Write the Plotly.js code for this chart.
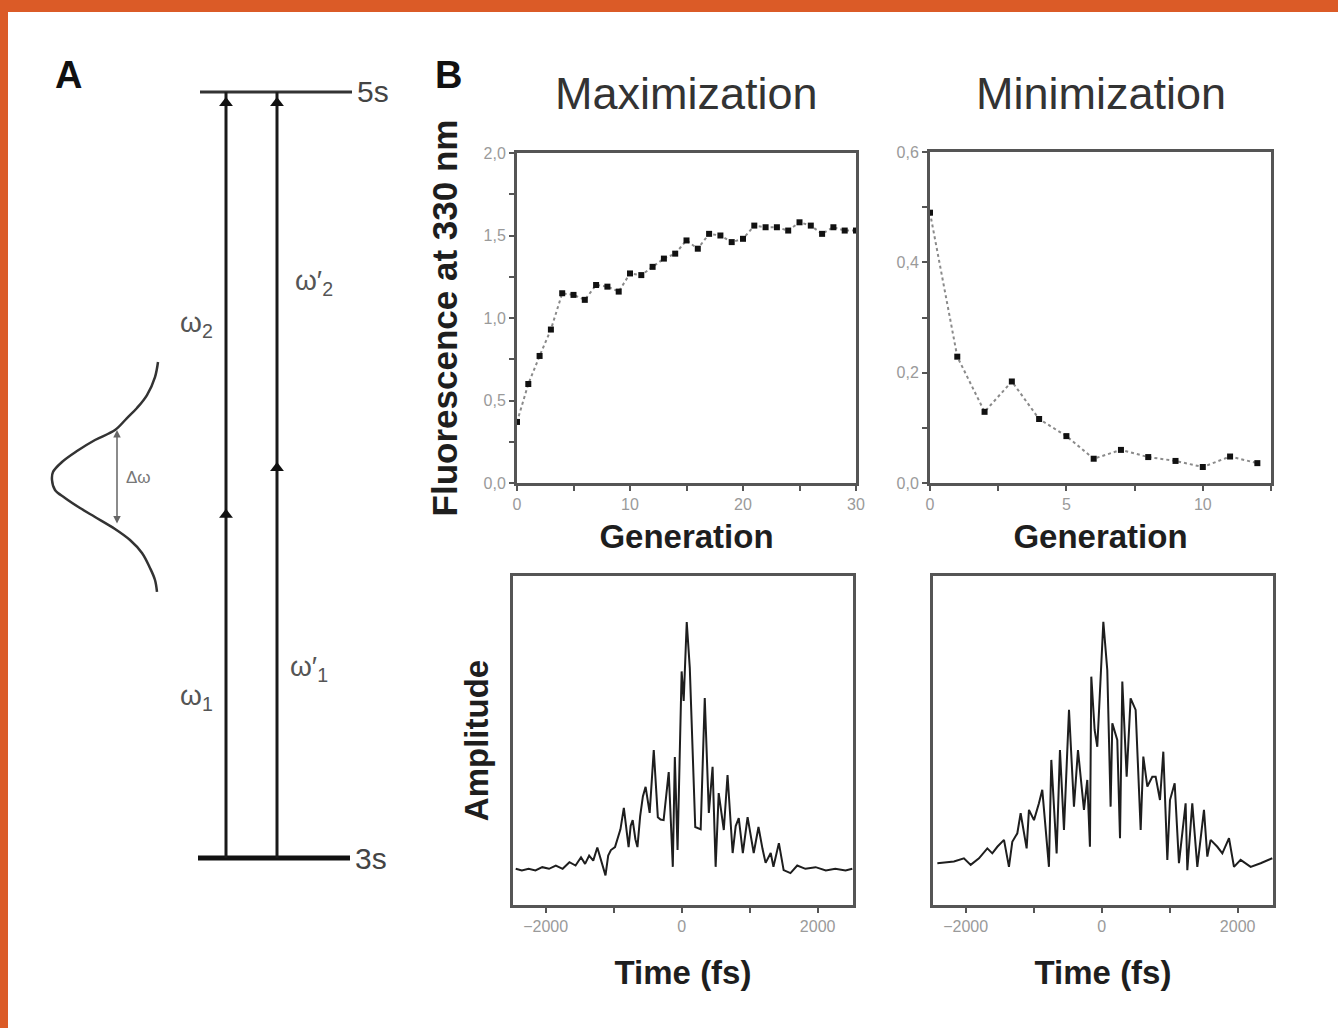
<!DOCTYPE html>
<html><head><meta charset="utf-8">
<script src="https://cdn.plot.ly/plotly-3.0.1.min.js"></script>
<style>html,body{margin:0;padding:0;background:#fff}#chart{width:1338px;height:1028px}</style>
</head><body><div id="chart"></div>
<script>
// ---------- Panel B, top row: fluorescence at 330 nm per generation ----------
const generationsMax = [0,1,2,3,4,5,6,7,8,9,10,11,12,13,14,15,16,17,18,19,20,21,22,23,24,25,26,27,28,29,30];
const fluorMax = [0.37,0.60,0.77,0.93,1.15,1.14,1.11,1.20,1.19,1.16,1.27,1.26,1.31,1.36,1.39,1.47,1.42,1.51,1.50,1.46,1.48,1.56,1.55,1.55,1.53,1.58,1.56,1.51,1.55,1.53,1.53];
const generationsMin = [0,1,2,3,4,5,6,7,8,9,10,11,12];
const fluorMin = [0.49,0.229,0.129,0.184,0.116,0.085,0.044,0.060,0.047,0.040,0.029,0.048,0.036];

// ---------- Panel B, bottom row: pulse amplitude vs time ----------
const timeMax = [-2440,-2350,-2250,-2150,-2050,-1950,-1850,-1750,-1650,-1560,-1480,-1420,-1360,-1300,-1240,-1180,-1120,-1080,-1040,-980,-940,-900,-850,-810,-780,-750,-720,-680,-650,-610,-570,-530,-470,-410,-350,-310,-265,-190,-130,-100,-60,0,30,75,120,200,280,340,400,455,500,545,620,675,750,795,840,900,970,1060,1130,1190,1235,1310,1350,1430,1500,1600,1700,1820,1970,2120,2260,2410,2510];
const ampMax = [11,10.5,11,10.5,11.5,11,12,11,13,12,14.5,12.5,15,13.5,17.5,13,9,15,16.7,17.6,20,23,29.5,22,17.6,24,25.8,20,17.6,27,33,35.9,28,47.1,26.7,26,25.8,40.4,11.6,45,16.7,71,62,86,72,23.7,23,62.9,28,42,11.6,34,22.8,39.5,15.8,24,26.4,15.8,26.7,15.8,23.7,17,12.8,15.8,11.6,18.8,10.6,9.7,12,11,11.5,10.5,11,10.5,11];
const timeMin = [-2416,-2172,-2025,-1926,-1804,-1681,-1608,-1534,-1436,-1363,-1314,-1240,-1191,-1103,-1069,-995,-922,-873,-775,-740,-662,-613,-554,-480,-407,-348,-260,-211,-172,-152,-103,-64,25,83,132,157,230,270,304,368,426,500,574,613,672,745,794,858,907,966,1005,1074,1137,1235,1260,1333,1407,1505,1554,1603,1701,1775,1873,1946,2044,2191,2338,2510];
const ampMin = [12.7,13.2,14.2,12.2,14.2,17.2,15.7,17.7,19.8,11.6,19.2,21.8,27.9,17.2,28.9,25.8,30.9,35.0,11.6,44.1,15.7,47.1,22.8,59.3,29.9,47.1,28.9,38.0,17.7,69.4,53.2,48.1,86.1,71.4,29.9,55.2,50.2,20.3,67.9,39.0,62.8,59.3,22.8,45.1,36.0,39.0,39.0,31.9,46.6,13.7,31.9,37.0,12.7,30.9,10.6,30.9,11.6,28.9,14.7,19.8,17.7,15.7,20.3,11.6,13.7,11.6,12.7,14.2];

// ---------- Panel A: level scheme (energy 0 = 3s, 1 = 5s) ----------
const levelLabels = ['3s','5s'];
const levelEnergy = [0, 1];
const virtualEnergy = [0.448, 0.509];      // intermediate arrowheads for ω1 and ω'1
const transitionLabels = [['ω<sub>1</sub>','ω<sub>2</sub>'],['ω′<sub>1</sub>','ω′<sub>2</sub>']];
const spectrumX = [158,155,147,137,127,115,95,77,62,53,52,55,65,80,95,115,130,142,150,155,157];
const spectrumEnergy = [0.6475,0.6279,0.6044,0.5875,0.5744,0.5587,0.5457,0.5313,0.5170,0.5039,0.4935,0.4804,0.4700,0.4569,0.4452,0.4295,0.4151,0.3982,0.3786,0.3629,0.3473];
const bandEnergy = [0.4347, 0.5587];  // Δω extent

// diagram geometry (horizontal positions in panel-A units)
const levelSpan = [[198,350],[200,352]];
const pathX = [226, 277];
const bandX = 117;

const FONT = '"Liberation Sans", Arial, Helvetica, sans-serif';
const titleFont = {family: FONT, size: 33, color: '#1e1e1e', weight: 'bold'};
const tickFont = {family: FONT, size: 16, color: '#9a9a9a'};

const traces = [];
traces.push({x: generationsMax, y: fluorMax, xaxis:'x', yaxis:'y', type:'scatter', mode:'lines+markers',
  line:{color:'#8a8a8a', width:2, dash:'dot'}, marker:{symbol:'square', size:6, color:'#111'}, cliponaxis:false, showlegend:false});
traces.push({x: generationsMin, y: fluorMin, xaxis:'x2', yaxis:'y2', type:'scatter', mode:'lines+markers',
  line:{color:'#8a8a8a', width:2, dash:'dot'}, marker:{symbol:'square', size:6, color:'#111'}, cliponaxis:false, showlegend:false});
traces.push({x: timeMax, y: ampMax, xaxis:'x3', yaxis:'y3', type:'scatter', mode:'lines',
  line:{color:'#1e1e1e', width:2}, showlegend:false});
traces.push({x: timeMin, y: ampMin, xaxis:'x4', yaxis:'y4', type:'scatter', mode:'lines',
  line:{color:'#1e1e1e', width:2}, showlegend:false});

// Panel A traces
levelEnergy.forEach((e,i)=>{
  traces.push({x: levelSpan[i], y:[e,e], xaxis:'x5', yaxis:'y5', mode:'lines',
    line:{color: i===0 ? '#111' : '#333', width: i===0 ? 5 : 3}, showlegend:false, hoverinfo:'skip'});
});
pathX.forEach((px,i)=>{
  traces.push({x:[px,px], y:[levelEnergy[0], levelEnergy[1]], xaxis:'x5', yaxis:'y5', mode:'lines',
    line:{color:'#1a1a1a', width:3}, showlegend:false, hoverinfo:'skip'});
  traces.push({x:[px,px], y:[virtualEnergy[i], levelEnergy[1]-0.0144], xaxis:'x5', yaxis:'y5', mode:'markers',
    marker:{symbol:'triangle-up', size:12, color:'#111'}, showlegend:false, hoverinfo:'skip', cliponaxis:false});
});
traces.push({x: spectrumX, y: spectrumEnergy, xaxis:'x5', yaxis:'y5', mode:'lines',
  line:{color:'#333', width:2.5, shape:'spline'}, showlegend:false, hoverinfo:'skip'});

const annotations = [];
const ann = (o)=>annotations.push(Object.assign({showarrow:false, xanchor:'center', yanchor:'middle'}, o));
ann({xref:'paper', yref:'paper', x:686/1338, y:1-93/1028, text:'Maximization', font:{family:FONT, size:45, color:'#333'}});
ann({xref:'paper', yref:'paper', x:1101/1338, y:1-93/1028, text:'Minimization', font:{family:FONT, size:45, color:'#333'}});
ann({xref:'paper', yref:'paper', x:68/1338, y:1-75/1028, text:'A', font:{family:FONT, size:38, color:'#111', weight:'bold'}});
ann({xref:'paper', yref:'paper', x:448/1338, y:1-75/1028, text:'B', font:{family:FONT, size:38, color:'#111', weight:'bold'}});
// level names
levelEnergy.forEach((e,i)=>ann({xref:'x5', yref:'y5', x:levelSpan[i][1]+3, y:e, xanchor:'left', text:levelLabels[i], font:{family:FONT, size:30, color:'#444'}}));
// transition labels
ann({xref:'x5', yref:'y5', x:215, y:0.210, xanchor:'right', text:transitionLabels[0][0], font:{family:FONT, size:28, color:'#555'}});
ann({xref:'x5', yref:'y5', x:215, y:0.696, xanchor:'right', text:transitionLabels[0][1], font:{family:FONT, size:28, color:'#555'}});
ann({xref:'x5', yref:'y5', x:288, y:0.248, xanchor:'left', text:transitionLabels[1][0], font:{family:FONT, size:28, color:'#555'}});
ann({xref:'x5', yref:'y5', x:293, y:0.751, xanchor:'left', text:transitionLabels[1][1], font:{family:FONT, size:28, color:'#555'}});
// Δω band
annotations.push({xref:'x5', yref:'y5', axref:'x5', ayref:'y5', x:bandX, y:bandEnergy[1], ax:bandX, ay:bandEnergy[0],
  showarrow:true, arrowside:'end+start', arrowhead:2, arrowsize:1, arrowwidth:1.5, arrowcolor:'#666', text:''});
ann({xref:'x5', yref:'y5', x:124, y:(bandEnergy[0]+bandEnergy[1])/2, xanchor:'left', text:'Δω', font:{family:FONT, size:17, color:'#777'}});

const baseAxis = {showline:true, mirror:true, linecolor:'#555', linewidth:3, zeroline:false, showgrid:false,
  ticks:'outside', ticklen:5, tickwidth:2, tickcolor:'#555', tickfont:tickFont, fixedrange:true};
const minor = (d)=>({dtick:d, ticks:'outside', ticklen:5, tickwidth:2, tickcolor:'#555', showgrid:false});

const layout = {
  width:1338, height:1028, margin:{l:0,r:0,t:0,b:0},
  paper_bgcolor:'#ffffff', plot_bgcolor:'#ffffff', separators:', ', showlegend:false,
  xaxis: Object.assign({}, baseAxis, {domain:[517/1338, 856/1338], anchor:'y', range:[0,30], tick0:0, dtick:10, minor:minor(5),
    title:{text:'Generation', font:titleFont, standoff:13}}),
  yaxis: Object.assign({}, baseAxis, {domain:[1-483/1028, 1-153/1028], anchor:'x', range:[0,2], tick0:0, dtick:0.5, tickformat:'.1f', minor:minor(0.25),
    title:{text:'Fluorescence at 330 nm', font:Object.assign({}, titleFont, {size:35}), standoff:16}}),
  xaxis2: Object.assign({}, baseAxis, {domain:[930/1338, 1271/1338], anchor:'y2', range:[0,12.5], tick0:0, dtick:5, minor:minor(2.5),
    title:{text:'Generation', font:titleFont, standoff:13}}),
  yaxis2: Object.assign({}, baseAxis, {domain:[1-483/1028, 1-152/1028], anchor:'x2', range:[0,0.6], tick0:0, dtick:0.2, tickformat:'.1f', minor:minor(0.1)}),
  xaxis3: Object.assign({}, baseAxis, {domain:[513/1338, 853/1338], anchor:'y3', range:[-2480,2520], tickvals:[-2000,0,2000], minor:{tickvals:[-1000,1000], ticks:'outside', ticklen:5, tickwidth:2, tickcolor:'#555'},
    title:{text:'Time (fs)', font:titleFont, standoff:27}}),
  yaxis3: Object.assign({}, baseAxis, {domain:[1-905/1028, 1-576/1028], anchor:'x3', range:[0,100], ticks:'', showticklabels:false,
    title:{text:'Amplitude', font:titleFont, standoff:12}}),
  xaxis4: Object.assign({}, baseAxis, {domain:[933/1338, 1273/1338], anchor:'y4', range:[-2480,2520], tickvals:[-2000,0,2000], minor:{tickvals:[-1000,1000], ticks:'outside', ticklen:5, tickwidth:2, tickcolor:'#555'},
    title:{text:'Time (fs)', font:titleFont, standoff:27}}),
  yaxis4: Object.assign({}, baseAxis, {domain:[1-905/1028, 1-576/1028], anchor:'x4', range:[0,100], ticks:'', showticklabels:false}),
  xaxis5: {domain:[0, 400/1338], anchor:'y5', range:[0,400], visible:false, fixedrange:true},
  yaxis5: {domain:[1-900/1028, 1-50/1028], anchor:'x5', range:[-0.0548,1.0548], visible:false, fixedrange:true},
  annotations: annotations,
  shapes: [
    {type:'rect', xref:'paper', yref:'paper', x0:0, x1:1, y0:1-12/1028, y1:1, fillcolor:'#db5b27', line:{width:0}, layer:'above'},
    {type:'rect', xref:'paper', yref:'paper', x0:0, x1:8/1338, y0:0, y1:1, fillcolor:'#db5b27', line:{width:0}, layer:'above'}
  ]
};

Plotly.newPlot('chart', traces, layout, {displayModeBar:false, staticPlot:true});
</script>
</body></html>
